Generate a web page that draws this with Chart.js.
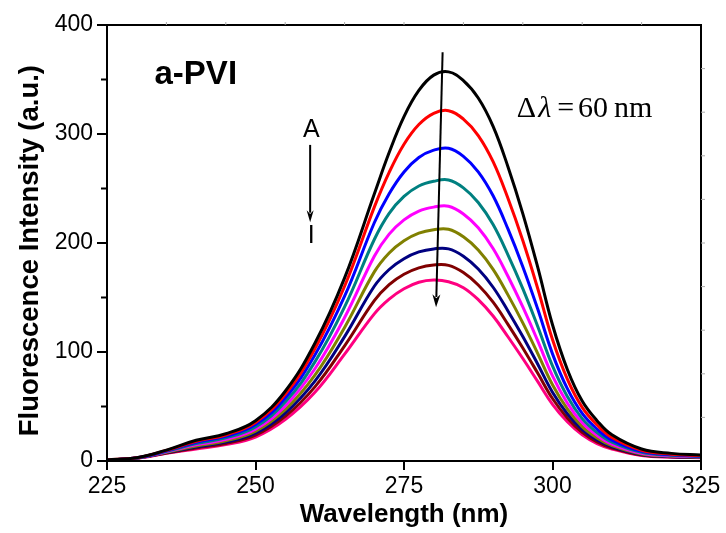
<!DOCTYPE html>
<html>
<head>
<meta charset="utf-8">
<script src="https://cdn.jsdelivr.net/npm/chart.js@4.4.0/dist/chart.umd.min.js"></script>
<style>
  html, body { margin: 0; padding: 0; background: #fff; }
  canvas { display: block; }
</style>
</head>
<body>
<canvas id="spectra" width="726" height="533"></canvas>
<script>
// emission spectra of a-PVI (5 nm steps, 2.5 nm around the band)
const wavelengths = [225, 230, 235, 240, 245, 250, 255, 260, 265, 270, 272.5, 275, 277.5, 280, 282.5, 285, 287.5, 290, 292.5, 295, 297.5, 300, 302.5, 305, 307.5, 310, 315, 320, 325];

const specA = [1, 3, 10, 19, 25, 37, 64, 108, 168, 245, 283, 316, 340, 354, 357, 349, 333, 307, 270, 227, 178, 125, 84, 55, 37, 24, 11, 7, 5.5];
const specB = [1, 3, 9.7, 18.1, 23.9, 35.4, 61.1, 103, 160.3, 232.9, 264.8, 290.6, 308.7, 319, 321.4, 313.7, 298.6, 274.6, 241, 202.3, 158.5, 111.4, 75.1, 49.2, 33.1, 21.6, 9.9, 6.3, 5];
const specC = [1, 2.9, 9.3, 17.1, 22.6, 33.4, 57.8, 97.2, 151.2, 218.6, 245.2, 265.2, 278.5, 285.2, 286.9, 279.5, 265.3, 243.3, 212.9, 178.3, 139.6, 98.3, 66.4, 43.7, 29.3, 19.2, 8.8, 5.7, 4.6];
const specD = [1, 2.8, 8.9, 16, 21.2, 31.3, 54.1, 90.9, 141.4, 203.2, 227.2, 242.7, 252.3, 256.6, 257.8, 250.6, 237.2, 216.9, 189.2, 158.1, 123.6, 87.2, 59.1, 38.9, 26.1, 17.3, 7.9, 5.2, 4.2];
const specE = [1, 2.7, 8.4, 14.8, 19.8, 29.2, 50.5, 84.6, 131.6, 187.8, 208.1, 221.2, 229.3, 232.9, 233.7, 226.6, 213.9, 194.9, 169.5, 141.3, 110.4, 78, 53.1, 35, 23.5, 15.6, 7.1, 4.8, 3.9];
const specF = [1, 2.7, 8.1, 13.8, 18.5, 27.3, 47.1, 78.7, 122.5, 173.5, 190.9, 202.1, 209.1, 212.2, 212.6, 205.7, 193.5, 175.8, 152.4, 126.7, 98.8, 70, 47.8, 31.6, 21.2, 14.2, 6.5, 4.4, 3.6];
const specG = [1, 2.6, 7.7, 12.8, 17.3, 25.5, 44, 73.3, 114.1, 160.3, 175.7, 185.6, 191.8, 194.6, 194.6, 187.9, 176.1, 159.4, 137.7, 114.2, 89, 63.1, 43.3, 28.7, 19.2, 13, 5.9, 4, 3.4];
const specH = [1, 2.6, 7.3, 11.9, 16.1, 23.7, 40.9, 68, 105.7, 147.1, 161.8, 171.3, 177.2, 179.8, 179.5, 172.9, 161.5, 145.7, 125.4, 103.7, 80.7, 57.3, 39.5, 26.3, 17.5, 11.9, 5.4, 3.8, 3.2];
const specI = [1, 2.5, 7, 11, 15, 22, 38, 63, 98, 135, 148.5, 158, 164, 166, 164.5, 159, 148, 133, 114, 94, 73, 52, 36, 24, 16, 11, 5, 3.5, 3];

const seriesNames = ['A', 'B', 'C', 'D', 'E', 'F', 'G', 'H', 'I'];
const seriesData = [specA, specB, specC, specD, specE, specF, specG, specH, specI];
const seriesColors = ['#000000', '#ff0000', '#0000ff', '#008080', '#ff00ff', '#808000', '#000080', '#800000', '#ff0080'];

const xTicks = [225, 250, 275, 300, 325];
const yTicks = [0, 100, 200, 300, 400];
const yMinor = [50, 150, 250, 350];

const sans = "'Liberation Sans', Arial, sans-serif";
const serif = "'Liberation Serif', 'Times New Roman', serif";

function arrow(ctx, x1, y1, x2, y2, head, half) {
    const ang = Math.atan2(y2 - y1, x2 - x1);
    const c = Math.cos(ang), s = Math.sin(ang);
    ctx.beginPath();
    ctx.moveTo(x1, y1);
    ctx.lineTo(x2 - c * head * 0.8, y2 - s * head * 0.8);
    ctx.stroke();
    ctx.beginPath();
    ctx.moveTo(x2, y2);
    ctx.lineTo(x2 - c * head + s * half, y2 - s * head - c * half);
    ctx.lineTo(x2 - c * head * 0.7, y2 - s * head * 0.7);
    ctx.lineTo(x2 - c * head - s * half, y2 - s * head + c * half);
    ctx.closePath();
    ctx.fill();
}

// frame, minor ticks and the labels inside the plot
const decorations = {
    id: 'decorations',
    afterDraw(chart) {
        const { ctx, chartArea: area, scales: { x, y } } = chart;
        const px = v => x.getPixelForValue(v);
        const py = v => y.getPixelForValue(v);
        ctx.save();
        ctx.strokeStyle = '#000';
        ctx.fillStyle = '#000';

        ctx.lineWidth = 2;
        ctx.strokeRect(area.left, area.top, area.right - area.left, area.bottom - area.top);
        yMinor.forEach(v => {
            ctx.beginPath();
            ctx.moveTo(area.left - 6, py(v));
            ctx.lineTo(area.left, py(v));
            ctx.stroke();
        });

        // faint ticks on the top and right edges
        ctx.strokeStyle = '#aaa';
        ctx.lineWidth = 1;
        for (let v = 235; v < 325; v += 10) {
            ctx.beginPath();
            ctx.moveTo(px(v), area.top - 3);
            ctx.lineTo(px(v), area.top);
            ctx.stroke();
        }
        for (let v = 40; v < 400; v += 40) {
            ctx.beginPath();
            ctx.moveTo(area.right, py(v));
            ctx.lineTo(area.right + 4, py(v));
            ctx.stroke();
        }

        ctx.strokeStyle = '#000';
        ctx.lineWidth = 2;
        arrow(ctx, px(281.5), py(375), px(280.4), py(141), 13, 4);
        arrow(ctx, px(259.2), py(290), px(259.2), py(219), 12, 3.5);

        ctx.font = 'bold 33px ' + sans;
        ctx.textAlign = 'left';
        ctx.textBaseline = 'alphabetic';
        ctx.fillText('a-PVI', px(233), py(346));

        ctx.font = '25px ' + sans;
        ctx.textAlign = 'center';
        ctx.fillText('A', px(259.4), py(297));
        ctx.fillText('I', px(259.4), py(200));

        // Δλ = 60 nm
        ctx.textAlign = 'left';
        let tx = px(294);
        const ty = py(315.5);
        ctx.font = '30px ' + serif;
        ctx.fillText('\u0394', tx, ty);
        tx += ctx.measureText('\u0394').width + 2;
        ctx.font = 'italic 30px ' + serif;
        ctx.fillText('\u03bb', tx, ty);
        tx += ctx.measureText('\u03bb').width + 6;
        ctx.font = '30px ' + serif;
        ctx.fillText('=', tx, ty);
        tx += ctx.measureText('=').width + 4;
        ctx.fillText('60', tx, ty);
        tx += ctx.measureText('60').width + 6;
        ctx.fillText('nm', tx, ty);
        ctx.restore();
    }
};

new Chart(document.getElementById('spectra'), {
    type: 'line',
    data: {
        datasets: seriesNames.map((name, i) => ({
            label: name,
            data: wavelengths.map((w, j) => ({ x: w, y: seriesData[i][j] })),
            borderColor: seriesColors[i],
            borderWidth: 3,
            pointRadius: 0,
            tension: 0.4,
            fill: false
        }))
    },
    options: {
        responsive: false,
        animation: false,
        layout: { padding: { top: 25, right: 25, left: 0, bottom: 0 } },
        plugins: { legend: { display: false }, tooltip: { enabled: false } },
        scales: {
            x: {
                type: 'linear',
                min: 225,
                max: 325,
                afterBuildTicks: scale => { scale.ticks = xTicks.map(v => ({ value: v })); },
                afterFit: scale => { scale.height = 72; },
                grid: { drawOnChartArea: false, drawTicks: true, tickLength: 9, color: '#000', lineWidth: 2 },
                border: { display: true, color: '#000', width: 2 },
                ticks: { color: '#000', padding: 3, maxRotation: 0, font: { family: sans, size: 23 } },
                title: {
                    display: true,
                    text: 'Wavelength (nm)',
                    color: '#000',
                    padding: { top: 0, bottom: 3 },
                    font: { family: sans, size: 26, weight: 'bold' }
                }
            },
            y: {
                type: 'linear',
                min: 0,
                max: 400,
                afterBuildTicks: scale => { scale.ticks = yTicks.map(v => ({ value: v })); },
                afterFit: scale => { scale.width = 107; },
                grid: { drawOnChartArea: false, drawTicks: true, tickLength: 10, color: '#000', lineWidth: 2 },
                border: { display: true, color: '#000', width: 2 },
                ticks: { color: '#000', padding: 4, font: { family: sans, size: 23 } },
                title: {
                    display: true,
                    text: 'Fluorescence Intensity (a.u.)  ',
                    color: '#000',
                    padding: { top: 14, bottom: 0 },
                    font: { family: sans, size: 27.5, weight: 'bold' }
                }
            }
        }
    },
    plugins: [decorations]
});
</script>
</body>
</html>
